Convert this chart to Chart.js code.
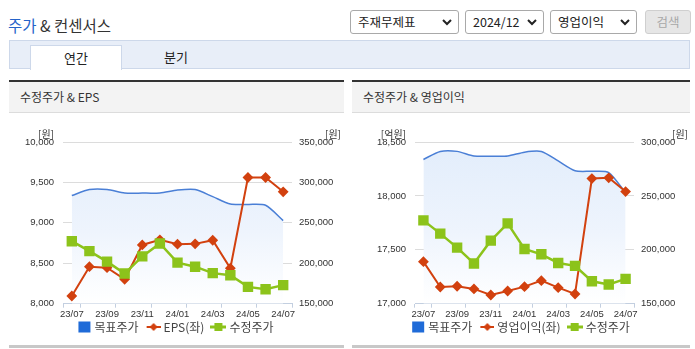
<!DOCTYPE html>
<html>
<head>
<meta charset="utf-8">
<script src="https://cdn.jsdelivr.net/npm/chart.js@4.4.1/dist/chart.umd.min.js"></script>
<style>
body{margin:0;width:695px;height:349px;overflow:hidden;position:relative;background:#fff;font-family:"Noto Sans CJK KR",sans-serif;color:#333}
.title{position:absolute;left:8px;top:14px;font-size:15.5px;color:#333;white-space:nowrap}
.title span{color:#2563c9}
.sel{position:absolute;top:10px;height:22px;border:1px solid #a9a9a9;border-radius:3px;background:#fff;font-size:12.5px;line-height:22px;padding-left:7px;box-sizing:content-box;color:#222}
.sel svg{position:absolute;right:6px;top:8px}
.btn{position:absolute;left:645px;top:10px;width:44px;height:22px;border:1px solid #cfcfcf;border-radius:3px;background:#e6e6e6;color:#a8a8a8;font-size:12.5px;line-height:22px;text-align:center}
.tabs{position:absolute;left:9px;top:40px;width:679px;height:27px;background:#e8eef8;border:1px solid #cdd8ea}
.tab{position:absolute;top:4px;height:24px;width:90px;text-align:center;font-size:13px;line-height:24px;color:#222}
.tab.on{background:#fff;border:1px solid #cdd8ea;border-bottom:none;left:20px}
.panel{position:absolute;top:80px;height:263px;border-top:2px solid #333;border-bottom:3px solid #c8c8c8}
.head{height:30px;background:#f3f3f3;border-bottom:1px solid #dcdcdc;font-size:12px;line-height:30px;padding-left:11px;color:#333}
.panel canvas{position:absolute;left:0;top:31px}
</style>
</head>
<body>
<div class="title"><span>주가</span> &amp; 컨센서스</div>
<div class="sel" style="left:350px;width:100px">주재무제표<svg width="10" height="7"><path d="M1 1 L5 5 L9 1" stroke="#222" stroke-width="2" fill="none"/></svg></div>
<div class="sel" style="left:465px;width:70px">2024/12<svg width="10" height="7"><path d="M1 1 L5 5 L9 1" stroke="#222" stroke-width="2" fill="none"/></svg></div>
<div class="sel" style="left:550px;width:78px">영업이익<svg width="10" height="7"><path d="M1 1 L5 5 L9 1" stroke="#222" stroke-width="2" fill="none"/></svg></div>
<div class="btn">검색</div>
<div class="tabs">
  <div class="tab on">연간</div>
  <div class="tab" style="left:121px">분기</div>
</div>
<div class="panel" style="left:9px;width:335px">
  <div class="head">수정주가 &amp; EPS</div>
  <canvas id="c1" width="334" height="230"></canvas>
</div>
<div class="panel" style="left:352px;width:338px">
  <div class="head">수정주가 &amp; 영업이익</div>
  <canvas id="c2" width="338" height="230"></canvas>
</div>
<script>
const months = ["23/07", "23/08", "23/09", "23/10", "23/11", "23/12", "24/01", "24/02", "24/03", "24/04", "24/05", "24/06", "24/07"];
const targetPrice = [283800, 291200, 291300, 287000, 286800, 287000, 290600, 291200, 282400, 273300, 272800, 271700, 252800];
const adjPrice = [227300, 215000, 202000, 187300, 208500, 224500, 200800, 195800, 187800, 185100, 170800, 167800, 173000];
const eps = [8095, 8458, 8446, 8302, 8727, 8790, 8736, 8740, 8785, 8438, 9561, 9561, 9384];
const opIncome = [17390, 17155, 17162, 17137, 17081, 17118, 17158, 17214, 17149, 17090, 18161, 18168, 18040];

const BLUE = "#4a7fd6", RED = "#d2410f", GREEN = "#8cc31b";

Chart.defaults.font.family = '"Liberation Sans Narrow","Liberation Sans",sans-serif';
Chart.defaults.font.size = 9.5;
Chart.defaults.color = "#333";

// small legend icons (line + marker), 16px wide, centred 5px right of the item start
function icon(kind, color) {
  const c = document.createElement("canvas");
  c.width = 16; c.height = 12;
  const g = c.getContext("2d");
  g.fillStyle = color; g.strokeStyle = color;
  if (kind == "box") {
    g.fillRect(3, 0.5, 12, 11);
  } else if (kind == "diamond") {
    g.lineWidth = 2;
    g.beginPath(); g.moveTo(2, 6); g.lineTo(16, 6); g.stroke();
    g.beginPath(); g.moveTo(9, 2); g.lineTo(13, 6); g.lineTo(9, 10); g.lineTo(5, 6); g.fill();
  } else {
    g.lineWidth = 3;
    g.beginPath(); g.moveTo(0, 6); g.lineTo(16, 6); g.stroke();
    g.fillRect(4, 2, 8, 8);
  }
  return c;
}

const unitPlugin = {
  id: "units",
  afterLayout(chart) {
    // let the x labels draw below the thin axis box
    chart.scales.x.bottom = chart.scales.x.top + 22;
  },
  afterDraw(chart, args, opts) {
    const { ctx, chartArea, width } = chart;
    ctx.save();
    ctx.font = '10px "Noto Sans CJK KR",sans-serif';
    ctx.fillStyle = "#333";
    ctx.textBaseline = "middle";
    ctx.textAlign = "right";
    ctx.fillText(opts.left, chartArea.left - 9, chartArea.top - 8);
    ctx.fillText(opts.right, width - 2, chartArea.top - 8);
    ctx.restore();
  }
};

function areaFill(context) {
  const area = context.chart.chartArea;
  if (!area) return "#e6effb";
  const g = context.chart.ctx.createLinearGradient(0, area.top, 0, area.bottom);
  g.addColorStop(0, "#e2edfb");
  g.addColorStop(0.55, "#eef4fd");
  g.addColorStop(1, "#ffffff");
  return g;
}

function makeChart(id, leftName, leftData, leftMin, leftMax, rightMax, leftUnit, leftW, rightW) {
  const fmt = v => v.toLocaleString("en-US");
  return new Chart(document.getElementById(id), {
    type: "line",
    data: {
      labels: months,
      datasets: [
        { label: "목표주가", data: targetPrice, yAxisID: "y1", borderColor: BLUE, borderWidth: 1.5,
          backgroundColor: areaFill, fill: "start", tension: 0.25, pointRadius: 0, order: 3 },
        { label: leftName, data: leftData, yAxisID: "y", borderColor: RED, backgroundColor: RED, borderWidth: 2,
          pointStyle: "rectRot", pointRadius: 4, pointHoverRadius: 4, order: 2 },
        { label: "수정주가", data: adjPrice, yAxisID: "y1", borderColor: GREEN, backgroundColor: GREEN, borderWidth: 2.5,
          pointStyle: "rect", pointRadius: 5.6, pointHoverRadius: 5.6, order: 1 }
      ]
    },
    options: {
      responsive: false,
      animation: false,
      layout: { padding: { top: 29, left: 0, right: 0, bottom: 0 } },
      scales: {
        x: {
          offset: true,
          grid: { offset: true, drawOnChartArea: false, tickLength: 4,
            color: c => (c.index === undefined || c.index === 0 || c.index % 2 === 1) ? "#c3cfe0" : "rgba(0,0,0,0)" },
          border: { color: "#c3cfe0" },
          ticks: { autoSkip: false, maxRotation: 0, padding: 1, callback: (v, i) => i % 2 === 0 ? months[i] : "" },
          afterFit: s => { s.height = 8.3; }
        },
        y: {
          position: "left", min: leftMin, max: leftMax,
          ticks: { stepSize: 500, padding: 9, callback: fmt },
          grid: { color: "#dcdcdc", drawTicks: false },
          border: { display: false },
          afterFit: s => { s.width = leftW; }
        },
        y1: {
          position: "right", min: 150000, max: rightMax,
          ticks: { stepSize: 50000, padding: 7, callback: fmt },
          grid: { drawOnChartArea: false, drawTicks: false },
          border: { display: false },
          afterFit: s => { s.width = rightW; }
        }
      },
      plugins: {
        tooltip: { enabled: false },
        units: { left: leftUnit, right: "[원]" },
        legend: {
          position: "bottom",
          labels: {
            usePointStyle: true, pointStyleWidth: 10, padding: 9,
            font: { family: '"Noto Sans CJK KR",sans-serif', size: 12 }, color: "#444",
            generateLabels: chart => chart.data.datasets.map((d, i) => ({
              text: d.label, datasetIndex: i, fontColor: "#444",
              pointStyle: icon(["box", "diamond", "square"][i], ["#1f6bd8", RED, GREEN][i]),
              fillStyle: d.borderColor, strokeStyle: d.borderColor, lineWidth: 0
            }))
          }
        }
      }
    },
    plugins: [unitPlugin]
  });
}

makeChart("c1", "EPS(좌)", eps, 8000, 10000, 350000, "[원]", 54, 51);
makeChart("c2", "영업이익(좌)", opIncome, 17000, 18500, 300000, "[억원]", 63, 56);
</script>
</body>
</html>
